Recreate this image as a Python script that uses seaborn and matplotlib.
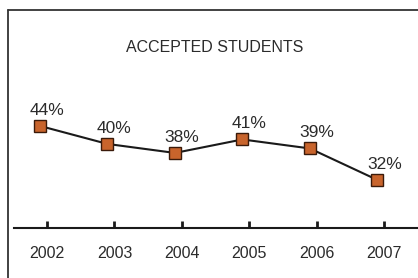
import numpy as np
import pandas as pd
import matplotlib
matplotlib.use("Agg")
import matplotlib.pyplot as plt
import matplotlib.transforms as mtransforms
from matplotlib.lines import Line2D
import seaborn as sns

years = ["2002", "2003", "2004", "2005", "2006", "2007"]
accepted = [44, 40, 38, 41, 39, 32]
labels = ["44%", "40%", "38%", "41%", "39%", "32%"]

df = pd.DataFrame({"year": years, "pct": accepted, "pos": np.arange(len(years))})

sns.set_style("white")
plt.rcParams['font.family'] = ['Liberation Sans Narrow', 'Liberation Sans', 'DejaVu Sans']

fig = plt.figure(figsize=(4.18, 2.78), dpi=100)
ax = fig.add_axes([14/418, 50/278, 404/418, 218/278])

# markers sit a little left of the ticks in the original
shift = mtransforms.offset_copy(ax.transData, fig=fig, x=-7, y=0, units='dots')
sns.lineplot(data=df, x="pos", y="pct", ax=ax, color="#1a1a1a", linewidth=1.5,
             marker="s", markersize=8.5, markerfacecolor="#c8642c",
             markeredgecolor="#3a1a0a", markeredgewidth=1.0, transform=shift)

for i, txt in enumerate(labels):
    ax.annotate(txt, (i, accepted[i]), xytext=(0, 6), textcoords="offset points",
                ha="center", va="bottom", fontsize=12.5, color="#2b2b2b")

ax.set_xlim(-0.49, 5.5)
ax.set_ylim(21.3, 69.8)
ax.set_xticks(range(len(years)))
ax.set_xticklabels(years, fontsize=11.5, color="#2b2b2b")
ax.set_yticks([])
ax.set_xlabel("")
ax.set_ylabel("")
for s in ["top", "right", "left"]:
    ax.spines[s].set_visible(False)
ax.spines["bottom"].set_color("#1a1a1a")
ax.spines["bottom"].set_linewidth(1.5)
ax.tick_params(axis="x", bottom=True, direction="in", length=5, width=2,
               color="#1a1a1a", pad=13)

fig.text(215/418, 1 - 48/278, "ACCEPTED STUDENTS", ha="center", va="center",
         fontsize=11.5, color="#2b2b2b")

# outer frame (left and top edges)
fig.add_artist(Line2D([8/418, 8/418], [0, 1 - 10/278], color="#333333", linewidth=1.3))
fig.add_artist(Line2D([8/418, 1], [1 - 10/278, 1 - 10/278], color="#333333", linewidth=1.3))

fig.savefig("out.png", dpi=100)
